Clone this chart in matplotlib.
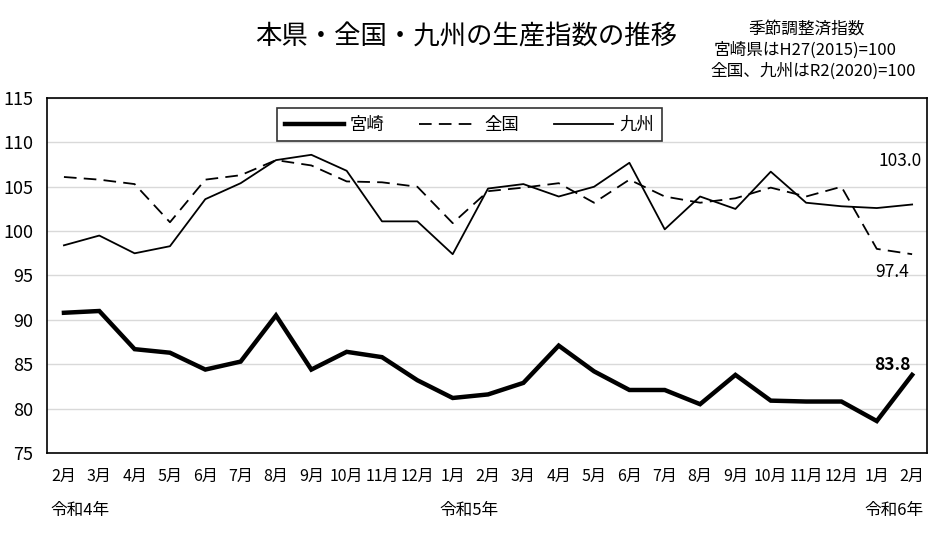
import matplotlib
matplotlib.use("Agg")
import matplotlib.pyplot as plt

plt.rcParams['font.family'] = ['Noto Sans CJK JP', 'DejaVu Sans']

# 月ラベル（令和4年2月〜令和6年2月）
months = ['2月', '3月', '4月', '5月', '6月', '7月', '8月', '9月', '10月', '11月', '12月', '1月',
          '2月', '3月', '4月', '5月', '6月', '7月', '8月', '9月', '10月', '11月', '12月', '1月', '2月']
years = ['令和4年', '令和5年', '令和6年']
year_pos = [0.45, 11.45, 23.5]

miyazaki = [90.8, 91.0, 86.7, 86.3, 84.4, 85.3, 90.5, 84.4, 86.4, 85.8, 83.2, 81.2,
            81.6, 82.9, 87.1, 84.2, 82.1, 82.1, 80.5, 83.8, 80.9, 80.8, 80.8, 78.6, 83.8]
zenkoku = [106.1, 105.8, 105.3, 101.0, 105.8, 106.3, 108.0, 107.4, 105.6, 105.5, 105.0, 100.9,
           104.5, 104.9, 105.4, 103.2, 105.8, 103.9, 103.2, 103.7, 104.9, 103.9, 105.0, 98.0, 97.4]
kyushu = [98.4, 99.5, 97.5, 98.3, 103.6, 105.4, 108.0, 108.6, 106.8, 101.1, 101.1, 97.4,
          104.8, 105.3, 103.9, 105.0, 107.7, 100.2, 103.9, 102.5, 106.7, 103.2, 102.8, 102.6, 103.0]

x = list(range(len(months)))

fig = plt.figure(figsize=(9.32, 5.42), dpi=100)
ax = fig.add_axes([0.0504, 0.1642, 0.9442, 0.655])

ax.plot(x, miyazaki, color='black', lw=3.2, label='宮崎', solid_joinstyle='miter')
ax.plot(x, zenkoku, color='black', lw=1.3, ls=(0, (7, 4)), label='全国')
ax.plot(x, kyushu, color='black', lw=1.3, label='九州')

ax.set_xlim(-0.48, 24.42)
ax.set_ylim(75, 115)
ax.set_yticks(range(75, 116, 5))
ax.yaxis.grid(True, color='#d9d9d9', lw=1)
ax.set_axisbelow(True)
ax.set_xticks(x)
ax.set_xticklabels(months)
ax.tick_params(length=0)
ax.tick_params(axis='x', labelsize=11.5, pad=11)
ax.tick_params(axis='y', labelsize=13, pad=10)
for s in ax.spines.values():
    s.set_linewidth(1.2)

# 最新値ラベル
ax.annotate('103.0', (24, kyushu[-1]), xytext=(-12, 43), textcoords='offset pixels',
            ha='center', va='center', fontsize=12.5)
ax.annotate('97.4', (24, zenkoku[-1]), xytext=(-20, -18), textcoords='offset pixels',
            ha='center', va='center', fontsize=12.5)
ax.annotate('83.8', (24, miyazaki[-1]), xytext=(-20, 10), textcoords='offset pixels',
            ha='center', va='center', fontsize=12.5, fontweight='bold')

for yl, xp in zip(years, year_pos):
    ax.text(xp, -0.162, yl, transform=ax.get_xaxis_transform(), ha='center', va='center',
            fontsize=12)

leg = ax.legend(loc='center', bbox_to_anchor=(0.48, 0.925), ncol=3, fontsize=12.5,
                frameon=True, fancybox=False, edgecolor='black', handlelength=3.4,
                handletextpad=0.35, columnspacing=2.0, borderpad=0.45, borderaxespad=0)
leg.get_frame().set_linewidth(1.2)

fig.text(0.5, 0.932, '本県・全国・九州の生産指数の推移', ha='center', va='center', fontsize=19)
fig.text(0.866, 0.945, '季節調整済指数', ha='center', va='center', fontsize=12)
fig.text(0.864, 0.908, '宮崎県はH27(2015)=100', ha='center', va='center', fontsize=12)
fig.text(0.872, 0.868, '全国、九州はR2(2020)=100', ha='center', va='center', fontsize=12)

fig.savefig('out.png', dpi=100)
